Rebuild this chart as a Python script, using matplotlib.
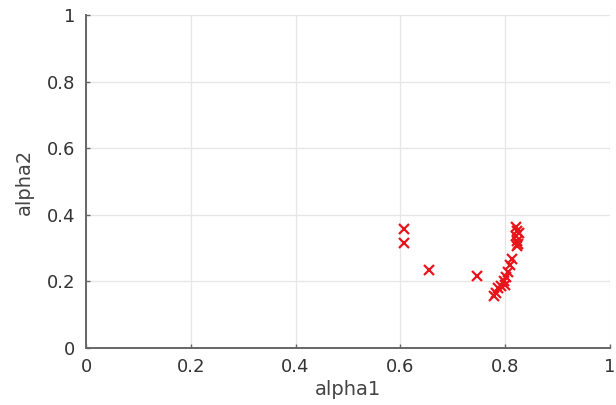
import matplotlib
matplotlib.use("Agg")
import matplotlib.pyplot as plt

plt.rcParams['font.family'] = ['DejaVu Sans']

# alpha1 / alpha2 pairs
alpha1 = [0.606, 0.606, 0.655, 0.747,
          0.821, 0.823, 0.821, 0.823, 0.822, 0.826, 0.824,
          0.813, 0.810, 0.806, 0.802, 0.797, 0.800, 0.792, 0.787, 0.782, 0.778]
alpha2 = [0.357, 0.316, 0.234, 0.216,
          0.362, 0.350, 0.335, 0.320, 0.305, 0.345, 0.312,
          0.268, 0.248, 0.228, 0.212, 0.200, 0.190, 0.187, 0.180, 0.165, 0.155]

ticks = [0, 0.2, 0.4, 0.6, 0.8, 1]
tick_labels = ['0', '0.2', '0.4', '0.6', '0.8', '1']

fig = plt.figure(figsize=(6.16, 4.05), dpi=100)
ax = fig.add_axes([86 / 616, 1 - 348 / 405, 524 / 616, 333 / 405])

ax.plot(alpha1, alpha2, 'x', color='#e8141c', markersize=7.5, markeredgewidth=1.6)

ax.set_xlim(0, 1)
ax.set_ylim(0, 1)
ax.set_xticks(ticks)
ax.set_xticklabels(tick_labels)
ax.set_yticks(ticks)
ax.set_yticklabels(tick_labels)
ax.grid(True, color='#e6e6e6', linewidth=0.9)
ax.set_axisbelow(True)
for s in ['top', 'right']:
    ax.spines[s].set_visible(False)
for s in ['left', 'bottom']:
    ax.spines[s].set_color('#666666')
    ax.spines[s].set_linewidth(1.4)
ax.tick_params(direction='in', length=3, width=1, colors='#666666',
               labelcolor='#333333', labelsize=13)
ax.tick_params(axis='x', pad=7)
ax.tick_params(axis='y', pad=8)
ax.set_xlabel('alpha1', fontsize=14, color='#444444', labelpad=3)
ax.set_ylabel('alpha2', fontsize=14, color='#444444', labelpad=9)

fig.savefig('out.png', dpi=100)
